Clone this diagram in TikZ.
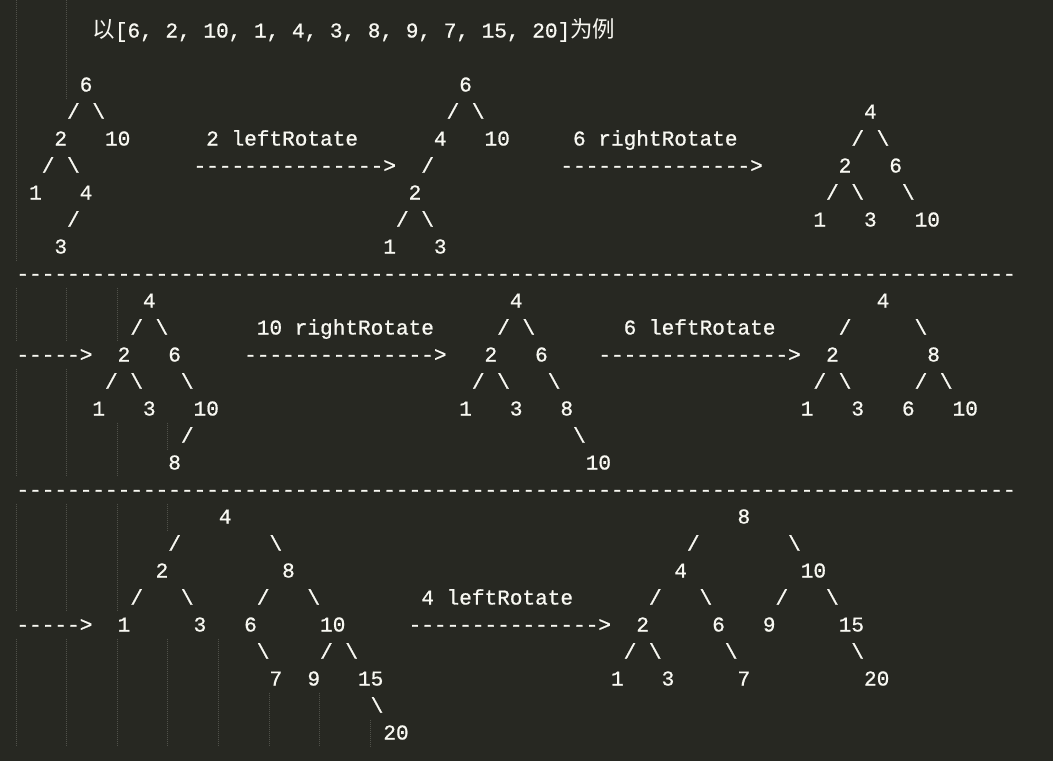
\documentclass[tikz,border=0pt]{standalone}
\usepackage{fontspec}
\setmonofont[FakeBold=0.8]{Liberation Mono}
\newfontfamily\cjk{Noto Sans CJK SC}
\definecolor{bg}{HTML}{272822}
\definecolor{fg}{HTML}{F8F8F2}
\definecolor{guide}{HTML}{50514A}
\newcounter{tokn}
\newcommand\T[3]{\stepcounter{tokn}\node[tok] (t\arabic{tokn}) at ({16.5+#2*12.65},{37.5+27*#1}) {#3};}
\newcommand\G[3]{\draw[guideline] ({16+#1*12.65},#2) -- ({16+#1*12.65},#3);}
\newcommand\bs{\textbackslash}
\newcommand\arr{--------------->}
\newcommand\sarr{----->}
\newcommand\sep{-------------------------------------------------------------------------------}
\newcommand\cjkf{\cjk\fontsize{22.5pt}{27pt}\selectfont}
\begin{document}
\begin{tikzpicture}[x=1pt,y=-1pt,
  tok/.style={anchor=base west,inner sep=0pt,outer sep=0pt,text=fg,
    font=\ttfamily\fontsize{21.08pt}{27pt}\selectfont},
  guideline/.style={draw=guide,line width=1pt,dash pattern=on 1pt off 1pt}]
\fill[bg] (0,0) rectangle (1053,761);
\useasboundingbox (0,0) rectangle (1053,761);
% indent guides
\G{0}{0}{260.5}
\G{4}{0}{98.5}
\G{0}{287.5}{341.5}\G{4}{287.5}{341.5}\G{8}{287.5}{341.5}
\G{0}{368.5}{476.5}\G{4}{368.5}{476.5}\G{8}{422.5}{476.5}\G{12}{422.5}{449.5}
\G{0}{503.5}{611.5}\G{4}{503.5}{611.5}\G{8}{503.5}{611.5}\G{12}{503.5}{530.5}
\G{0}{638.5}{746.5}\G{4}{638.5}{746.5}\G{8}{638.5}{746.5}\G{12}{638.5}{746.5}\G{16}{638.5}{746.5}
\G{20}{692.5}{746.5}\G{24}{692.5}{746.5}\G{28}{719.5}{746.5}
% title
\node[tok] (title) at ({16.5+6*12.65},37.5) {{\cjkf 以}[6, 2, 10, 1, 4, 3, 8, 9, 7, 15, 20]{\cjkf 为例}};
% row 1
\T{2}{5}{6}\T{2}{35}{6}
\T{3}{4}{/}\T{3}{6}{\bs}\T{3}{34}{/}\T{3}{36}{\bs}\T{3}{67}{4}
\T{4}{3}{2}\T{4}{7}{10}\T{4}{15}{2 leftRotate}\T{4}{33}{4}\T{4}{37}{10}\T{4}{44}{6 rightRotate}\T{4}{66}{/}\T{4}{68}{\bs}
\T{5}{2}{/}\T{5}{4}{\bs}\T{5}{14}{\arr}\T{5}{32}{/}\T{5}{43}{\arr}\T{5}{65}{2}\T{5}{69}{6}
\T{6}{1}{1}\T{6}{5}{4}\T{6}{31}{2}\T{6}{64}{/}\T{6}{66}{\bs}\T{6}{70}{\bs}
\T{7}{4}{/}\T{7}{30}{/}\T{7}{32}{\bs}\T{7}{63}{1}\T{7}{67}{3}\T{7}{71}{10}
\T{8}{3}{3}\T{8}{29}{1}\T{8}{33}{3}
\T{9}{0}{\sep}
% row 2
\T{10}{10}{4}\T{10}{39}{4}\T{10}{68}{4}
\T{11}{9}{/}\T{11}{11}{\bs}\T{11}{19}{10 rightRotate}\T{11}{38}{/}\T{11}{40}{\bs}\T{11}{48}{6 leftRotate}\T{11}{65}{/}\T{11}{71}{\bs}
\T{12}{0}{\sarr}\T{12}{8}{2}\T{12}{12}{6}\T{12}{18}{\arr}\T{12}{37}{2}\T{12}{41}{6}\T{12}{46}{\arr}\T{12}{64}{2}\T{12}{72}{8}
\T{13}{7}{/}\T{13}{9}{\bs}\T{13}{13}{\bs}\T{13}{36}{/}\T{13}{38}{\bs}\T{13}{42}{\bs}\T{13}{63}{/}\T{13}{65}{\bs}\T{13}{71}{/}\T{13}{73}{\bs}
\T{14}{6}{1}\T{14}{10}{3}\T{14}{14}{10}\T{14}{35}{1}\T{14}{39}{3}\T{14}{43}{8}\T{14}{62}{1}\T{14}{66}{3}\T{14}{70}{6}\T{14}{74}{10}
\T{15}{13}{/}\T{15}{44}{\bs}
\T{16}{12}{8}\T{16}{45}{10}
\T{17}{0}{\sep}
% row 3
\T{18}{16}{4}\T{18}{57}{8}
\T{19}{12}{/}\T{19}{20}{\bs}\T{19}{53}{/}\T{19}{61}{\bs}
\T{20}{11}{2}\T{20}{21}{8}\T{20}{52}{4}\T{20}{62}{10}
\T{21}{9}{/}\T{21}{13}{\bs}\T{21}{19}{/}\T{21}{23}{\bs}\T{21}{32}{4 leftRotate}\T{21}{50}{/}\T{21}{54}{\bs}\T{21}{60}{/}\T{21}{64}{\bs}
\T{22}{0}{\sarr}\T{22}{8}{1}\T{22}{14}{3}\T{22}{18}{6}\T{22}{24}{10}\T{22}{31}{\arr}\T{22}{49}{2}\T{22}{55}{6}\T{22}{59}{9}\T{22}{65}{15}
\T{23}{19}{\bs}\T{23}{24}{/}\T{23}{26}{\bs}\T{23}{48}{/}\T{23}{50}{\bs}\T{23}{56}{\bs}\T{23}{66}{\bs}
\T{24}{20}{7}\T{24}{23}{9}\T{24}{27}{15}\T{24}{47}{1}\T{24}{51}{3}\T{24}{57}{7}\T{24}{67}{20}
\T{25}{28}{\bs}
\T{26}{29}{20}
\end{tikzpicture}
\end{document}
